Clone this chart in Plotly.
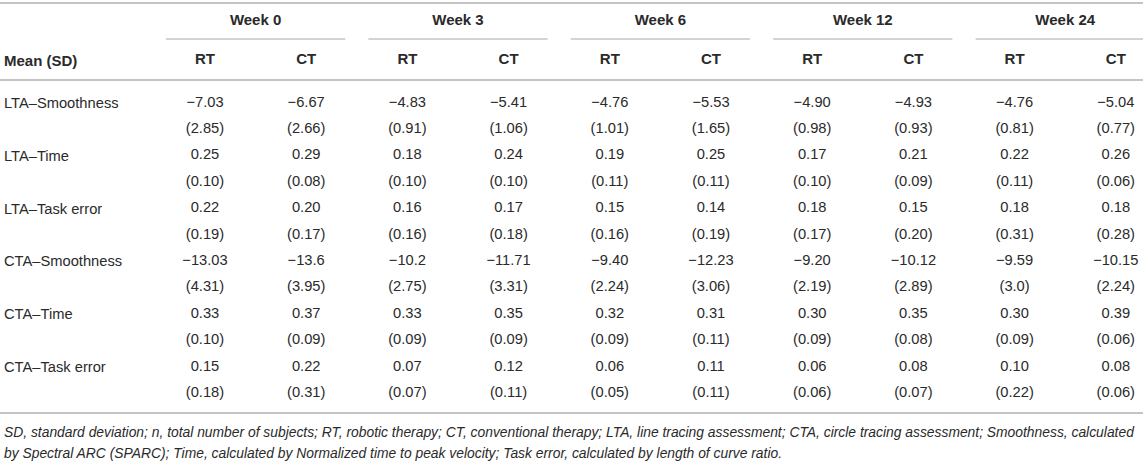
import plotly.graph_objects as go

# ── Table content ─────────────────────────────────────────────────────────────
WEEKS = ["Week 0", "Week 3", "Week 6", "Week 12", "Week 24"]
GROUPS = ["RT", "CT"]
MEASURES = ["LTA–Smoothness", "LTA–Time", "LTA–Task error",
            "CTA–Smoothness", "CTA–Time", "CTA–Task error"]

# one list per measure: RT/CT for weeks 0, 3, 6, 12, 24
MEANS = [
    ["−7.03", "−6.67", "−4.83", "−5.41", "−4.76", "−5.53", "−4.90", "−4.93", "−4.76", "−5.04"],
    ["0.25", "0.29", "0.18", "0.24", "0.19", "0.25", "0.17", "0.21", "0.22", "0.26"],
    ["0.22", "0.20", "0.16", "0.17", "0.15", "0.14", "0.18", "0.15", "0.18", "0.18"],
    ["−13.03", "−13.6", "−10.2", "−11.71", "−9.40", "−12.23", "−9.20", "−10.12", "−9.59", "−10.15"],
    ["0.33", "0.37", "0.33", "0.35", "0.32", "0.31", "0.30", "0.35", "0.30", "0.39"],
    ["0.15", "0.22", "0.07", "0.12", "0.06", "0.11", "0.06", "0.08", "0.10", "0.08"],
]
SDS = [
    ["2.85", "2.66", "0.91", "1.06", "1.01", "1.65", "0.98", "0.93", "0.81", "0.77"],
    ["0.10", "0.08", "0.10", "0.10", "0.11", "0.11", "0.10", "0.09", "0.11", "0.06"],
    ["0.19", "0.17", "0.16", "0.18", "0.16", "0.19", "0.17", "0.20", "0.31", "0.28"],
    ["4.31", "3.95", "2.75", "3.31", "2.24", "3.06", "2.19", "2.89", "3.0", "2.24"],
    ["0.10", "0.09", "0.09", "0.09", "0.09", "0.11", "0.09", "0.08", "0.09", "0.06"],
    ["0.18", "0.31", "0.07", "0.11", "0.05", "0.11", "0.06", "0.07", "0.22", "0.06"],
]

CORNER = "Mean (SD)"
FOOTNOTE = [
    "SD, standard deviation; n, total number of subjects; RT, robotic therapy; CT, conventional therapy; "
    "LTA, line tracing assessment; CTA, circle tracing assessment; Smoothness, calculated",
    "by Spectral ARC (SPARC); Time, calculated by Normalized time to peak velocity; "
    "Task error, calculated by length of curve ratio.",
]

# ── Layout constants (pixel grid of the page) ─────────────────────────────────
W, H = 1143, 462
COL0, COLW = 205, 101.2      # centre of first value column, column pitch
LEFT = 2                     # x of row labels
ROW0, ROWH = 103, 26.4       # centre of first body line, line pitch
Y_WEEK, Y_GROUP = 21, 60
Y_TOP, Y_WEEKLINE, Y_HEAD, Y_BOTTOM = 3, 39, 80, 413
Y_FOOT, FOOT_H = 432, 20.5
HALF_SPAN = 39               # week underline overhang beyond column centres

TXT = "#2a2a2a"
RULE = "#c4c4c4"
FONT = "Liberation Sans, Arial, sans-serif"
BODY_SIZE, HEAD_SIZE, FOOT_SIZE = 14.7, 15, 13.85


def col_x(i):
    return COL0 + COLW * i


n_cols = len(WEEKS) * len(GROUPS)

# body values: mean on one line, (SD) on the next
xs, ys, texts = [], [], []
for r, (means, sds) in enumerate(zip(MEANS, SDS)):
    for c in range(n_cols):
        xs += [col_x(c), col_x(c)]
        ys += [ROW0 + ROWH * 2 * r, ROW0 + ROWH * (2 * r + 1)]
        texts += [means[c], f"({sds[c]})"]

# group header
gx = [col_x(c) for c in range(n_cols)]
gy = [Y_GROUP] * n_cols
gt = [f"<b>{GROUPS[c % len(GROUPS)]}</b>" for c in range(n_cols)]

# week header
wx = [(col_x(2 * k) + col_x(2 * k + 1)) / 2 for k in range(len(WEEKS))]
wy = [Y_WEEK] * len(WEEKS)
wt = [f"<b>{w}</b>" for w in WEEKS]

fig = go.Figure()
for x, y, t, s in [(xs, ys, texts, BODY_SIZE), (gx, gy, gt, HEAD_SIZE), (wx, wy, wt, HEAD_SIZE)]:
    fig.add_trace(go.Scatter(
        x=x, y=y, text=t, mode="text", textposition="middle center",
        textfont=dict(family=FONT, size=s, color=TXT),
        hoverinfo="skip", showlegend=False,
    ))

# row labels (left aligned)
annotations = [dict(x=LEFT, y=Y_GROUP, text=f"<b>{CORNER}</b>", xanchor="left",
                    font=dict(family=FONT, size=HEAD_SIZE, color=TXT))]
for r, m in enumerate(MEASURES):
    annotations.append(dict(x=LEFT, y=ROW0 + ROWH * 2 * r, text=m, xanchor="left",
                            font=dict(family=FONT, size=BODY_SIZE, color=TXT)))
for i, line in enumerate(FOOTNOTE):
    annotations.append(dict(x=LEFT, y=Y_FOOT + FOOT_H * i, text=f"<i>{line}</i>", xanchor="left",
                            font=dict(family=FONT, size=FOOT_SIZE, color=TXT)))
for a in annotations:
    a.update(xref="x", yref="y", yanchor="middle", showarrow=False)

# rules
shapes = []
for y in (Y_TOP, Y_HEAD, Y_BOTTOM):
    shapes.append(dict(type="line", xref="x", yref="y", x0=0, x1=W, y0=y, y1=y,
                       line=dict(color=RULE, width=2)))
for k in range(len(WEEKS)):
    x0 = col_x(2 * k) - HALF_SPAN
    x1 = min(col_x(2 * k + 1) + HALF_SPAN, W)
    shapes.append(dict(type="line", xref="x", yref="y", x0=x0, x1=x1,
                       y0=Y_WEEKLINE, y1=Y_WEEKLINE, line=dict(color=RULE, width=1.3)))

fig.update_layout(
    width=W, height=H,
    margin=dict(l=0, r=0, t=0, b=0),
    paper_bgcolor="white", plot_bgcolor="white",
    xaxis=dict(range=[0, W], visible=False, fixedrange=True),
    yaxis=dict(range=[H, 0], visible=False, fixedrange=True),
    annotations=annotations,
    shapes=shapes,
)

# drop the browser's default page margin so the table sits flush
fig.write_html("out.html", config={"displayModeBar": False},
               post_script="document.body.style.margin='0';document.body.style.overflow='hidden';")
